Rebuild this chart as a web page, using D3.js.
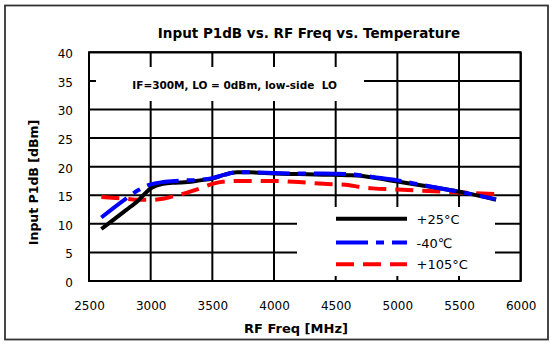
<!DOCTYPE html>
<html><head><meta charset="utf-8">
<script src="https://cdn.jsdelivr.net/npm/d3@7"></script>
<style>body{margin:0;background:#fff}svg{display:block}</style>
</head><body>
<svg id="c" width="552" height="345"></svg>
<script>
const freqs = [2600,2800,2900,3000,3100,3200,3300,3400,3500,3600,3700,3800,4000,4200,4400,4600,4700,4800,5000,5200,5400,5600,5800];
const p25  = [9.1,12.4,14.1,16.2,17.0,17.2,17.3,17.6,17.9,18.6,19.0,19.0,18.8,18.7,18.6,18.5,18.4,18.1,17.4,16.7,16.0,15.2,14.2];
const m40  = [11.1,14.4,15.9,16.9,17.3,17.5,17.6,17.7,18.0,18.6,19.0,19.0,18.9,18.8,18.8,18.7,18.5,18.2,17.6,16.8,16.0,15.2,14.3];
const p105 = [14.7,14.4,14.2,14.2,14.4,14.9,15.5,16.2,17.0,17.4,17.5,17.5,17.5,17.3,17.0,16.8,16.4,16.2,16.0,15.8,15.6,15.4,15.2];
const seriesNames = ["+25°C","-40℃","+105°C"];
const xTicks = [2500,3000,3500,4000,4500,5000,5500,6000];
const yTicks = [0,5,10,15,20,25,30,35,40];
const title = "Input P1dB vs. RF Freq vs. Temperature";
const note = "IF=300M, LO = 0dBm, low-side  LO";
const xTitle = "RF Freq [MHz]";
const yTitle = "Input P1dB [dBm]";

const svg = d3.select("#c");
const font = "DejaVu Sans, Verdana, sans-serif";
const L = 89, R = 520.7, T = 52.3, B = 281;
const x = d3.scaleLinear().domain([2500,6000]).range([L,R]);
const y = d3.scaleLinear().domain([0,40]).range([B,T]);

// outer border
svg.append("rect").attr("x",5).attr("y",5.5).attr("width",543).attr("height",334)
  .attr("fill","#fff").attr("stroke","#333").attr("stroke-width",1.8);

// grid
const g = svg.append("g");
g.selectAll(".vg").data(xTicks).join("line")
  .attr("x1",d=>x(d)).attr("x2",d=>x(d)).attr("y1",T).attr("y2",B)
  .attr("stroke","#000").attr("stroke-width",2);
g.selectAll(".hg").data(yTicks).join("line")
  .attr("x1",L).attr("x2",R).attr("y1",d=>y(d)).attr("y2",d=>y(d))
  .attr("stroke","#000").attr("stroke-width",2);
g.append("rect").attr("x",L).attr("y",T).attr("width",R-L).attr("height",B-T)
  .attr("fill","none").attr("stroke","#000").attr("stroke-width",2);

// tick labels via axes
const xAxis = svg.append("g").attr("transform",`translate(0,${B})`)
  .call(d3.axisBottom(x).tickValues(xTicks).tickFormat(d3.format("d")).tickSize(0).tickPadding(20));
xAxis.select(".domain").remove();
xAxis.selectAll("text").attr("font-family",font).attr("font-size",12).attr("fill","#000");
const yAxis = svg.append("g").attr("transform",`translate(${L},0)`)
  .call(d3.axisLeft(y).tickValues(yTicks).tickFormat(d3.format("d")).tickSize(0).tickPadding(16));
yAxis.select(".domain").remove();
yAxis.selectAll("text").attr("font-family",font).attr("font-size",12).attr("fill","#000").attr("dy","0.45em");

// annotation box
svg.append("rect").attr("x",96).attr("y",67).attr("width",268).attr("height",34).attr("fill","#fff");
svg.append("text").attr("x",234.6).attr("y",88.5).attr("text-anchor","middle")
  .attr("font-family",font).attr("font-weight","bold").attr("font-size",10.5).attr("xml:space","preserve").text(note);

// series
const line = d3.line().x(d=>x(d[0])).y(d=>y(d[1])).curve(d3.curveMonotoneX);
const styles = [
  {c:"#000", dash:null},
  {c:"#0000ff", dash:"32,8,8,8"},
  {c:"#ff0000", dash:"18,9"}
];
const data = [p25, m40, p105];
[2,0,1].forEach(i=>{
  svg.append("path").datum(freqs.map((f,k)=>[f,data[i][k]]))
    .attr("d",line).attr("fill","none").attr("stroke",styles[i].c)
    .attr("stroke-width",4).attr("stroke-dasharray",styles[i].dash);
});

// legend
svg.append("rect").attr("x",297).attr("y",207).attr("width",198).attr("height",69).attr("fill","#fff");
const ly = [218.7,242.5,264.3];
seriesNames.forEach((n,i)=>{
  svg.append("line").attr("x1",336).attr("x2",407).attr("y1",ly[i]).attr("y2",ly[i])
    .attr("stroke",styles[i].c).attr("stroke-width",4).attr("stroke-dasharray",styles[i].dash);
  svg.append("text").attr("x",416.5).attr("y",ly[i]+5).attr("font-family",font).attr("font-size",13).text(n);
});

// titles
svg.append("text").attr("x",309).attr("y",37.5).attr("text-anchor","middle")
  .attr("font-family",font).attr("font-weight","bold").attr("font-size",13.5).text(title);
svg.append("text").attr("x",296).attr("y",333).attr("text-anchor","middle")
  .attr("font-family",font).attr("font-weight","bold").attr("font-size",13).text(xTitle);
svg.append("text").attr("transform","translate(37.5,182.5) rotate(-90)").attr("text-anchor","middle")
  .attr("font-family",font).attr("font-weight","bold").attr("font-size",12.5).text(yTitle);
</script>
</body></html>
